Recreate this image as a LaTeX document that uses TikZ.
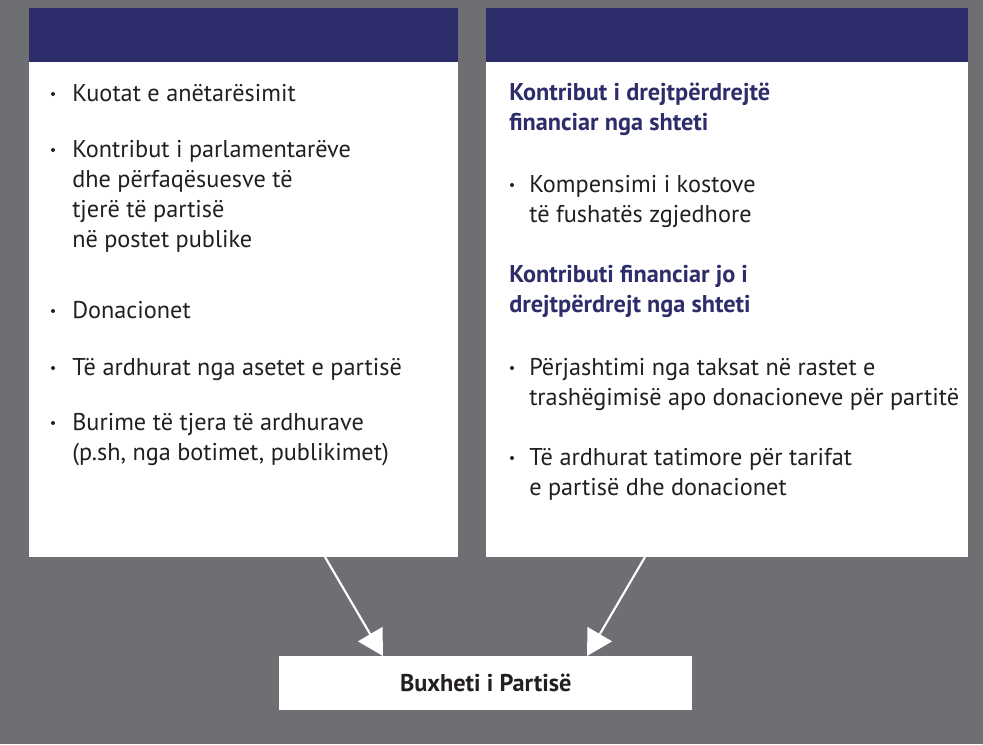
\documentclass[tikz,border=0pt]{standalone}
\usepackage{fontspec}
\setmainfont{PT Sans}
\usetikzlibrary{arrows.meta}
\definecolor{bggray}{RGB}{110,111,115}
\definecolor{navy}{RGB}{46,45,107}
\definecolor{ink}{RGB}{35,31,32}
\tikzset{
  panel/.style={fill=white, inner sep=0, anchor=north west},
  headbar/.style={fill=navy, inner sep=0, anchor=north west, minimum height=40.5pt},
  itm/.style={anchor=base west, inner sep=0, align=left, text=ink, font=\fontsize{18.2}{22.5}\selectfont},
  hd/.style={itm, text=navy, font=\fontsize{18.2}{22.5}\selectfont\bfseries},
  bul/.style={circle, fill=ink, inner sep=0, minimum size=3pt},
  flow/.style={draw=white, line width=1.6pt, -{Triangle[width=21pt,length=19pt]}}
}
\begin{document}
\begin{tikzpicture}[x=0.75pt,y=-0.75pt]
\fill[bggray] (0,0) rectangle (983,744);
\useasboundingbox (0,0) rectangle (983,744);
% left panel
\node[panel, minimum width=321.75pt, minimum height=411.75pt] (lbox) at (29,8){};
\node[headbar, minimum width=321.75pt] (lhead) at (29,8){};
\node[bul] (lb1) at (53,94){};
\node[itm] (l1) at (72,101){Kuotat e anëtarësimit};
\node[bul] (lb2) at (53,150){};
\node[itm] (l2) at (72,247){Kontribut i parlamentarëve\\dhe përfaqësuesve të\\tjerë të partisë\\në postet publike};
\node[bul] (lb3) at (53,311){};
\node[itm] (l3) at (72,318){Donacionet};
\node[bul] (lb4) at (53,368){};
\node[itm] (l4) at (72,375){Të ardhurat nga asetet e partisë};
\node[bul] (lb5) at (53,423){};
\node[itm] (l5) at (72,460){Burime të tjera të ardhurave\\(p.sh, nga botimet, publikimet)};
% right panel
\node[panel, minimum width=361.5pt, minimum height=411.75pt] (rbox) at (486,8){};
\node[headbar, minimum width=361.5pt] (rhead) at (486,8){};
\node[hd] (r1) at (509,130){Kontribut i drejtpërdrejtë\\financiar nga shteti};
\node[bul] (rb2) at (512,185){};
\node[itm] (r2) at (529,222){Kompensimi i kostove\\të fushatës zgjedhore};
\node[hd] (r3) at (509,312){Kontributi financiar jo i\\drejtpërdrejt nga shteti};
\node[bul] (rb4) at (512,368){};
\node[itm] (r4) at (529,405){Përjashtimi nga taksat në rastet e\\trashëgimisë apo donacioneve për partitë};
\node[bul] (rb5) at (512,458){};
\node[itm] (r5) at (529,495){Të ardhurat tatimore për tarifat\\e partisë dhe donacionet};
% budget
\node[panel, minimum width=309.75pt, minimum height=40.5pt] (budget) at (279,656){};
\node[text=ink, font=\fontsize{18.2}{22.5}\selectfont\bfseries] (budgettxt) at (budget.center){Buxheti i Partisë};
\coordinate (lfrom) at (325,557);
\coordinate (lto) at (383,656);
\coordinate (rfrom) at (645,557);
\coordinate (rto) at (587,656);
\draw[flow] (lfrom) -- (lto);
\draw[flow] (rfrom) -- (rto);
\end{tikzpicture}
\end{document}
